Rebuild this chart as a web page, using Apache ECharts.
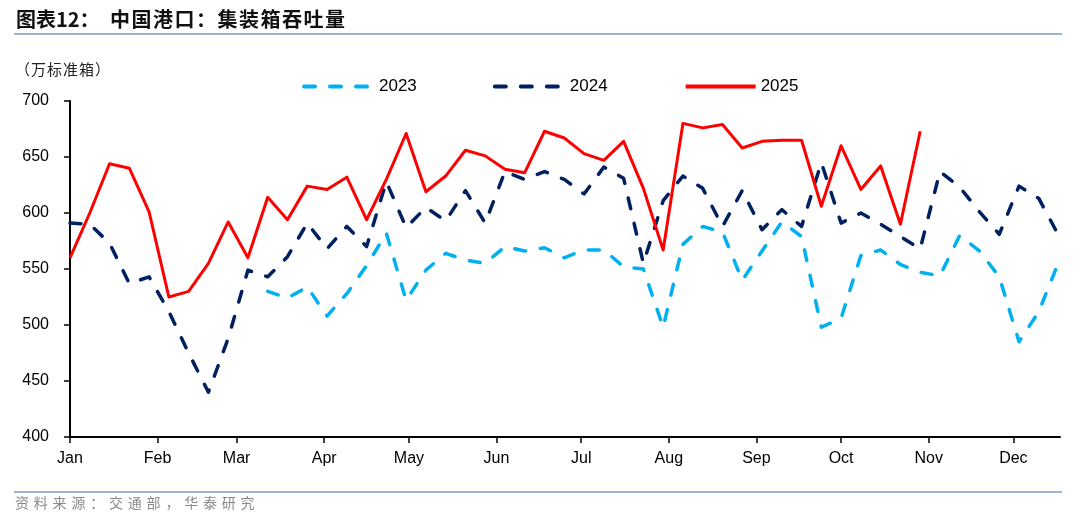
<!DOCTYPE html>
<html>
<head>
<meta charset="utf-8">
<script src="https://cdn.jsdelivr.net/npm/echarts@6/dist/echarts.min.js"></script>
<style>
html,body{margin:0;padding:0;background:#fff;}
#chart{width:1080px;height:525px;}
</style>
</head>
<body>
<div id="chart"></div>
<script>
// ---- data (weekly points; index i = week i of the year) ----
const monthLabels = ['Jan','Feb','Mar','Apr','May','Jun','Jul','Aug','Sep','Oct','Nov','Dec'];
const monthStartDays = [0,31,59,90,120,151,181,212,243,273,304,334];
const yTicks = [400,450,500,550,600,650,700];

const series2023 = [null,null,null,null,null,null,null,null,null,null,
  530,524,534,508,528,553,582,522,549,564,
  558,555,570,566,569,560,567,567,552,550,
  498,572,588,583,540,566,592,579,498,506,
  562,567,554,547,544,580,566,543,485,512,556];
const series2024 = [591,590,573,537,543,512,475,440,488,549,
  543,561,591,568,588,570,628,587,605,593,
  620,591,637,630,637,630,617,641,631,555,
  611,633,622,588,620,585,603,588,645,591,
  600,590,579,568,637,623,601,581,624,613,580];
const series2025 = [560,600,644,640,601,525,530,555,592,560,
  614,594,624,621,632,594,630,671,619,633,
  656,651,639,636,673,667,653,647,664,622,
  567,680,676,679,658,664,665,665,606,660,
  621,642,590,673];

const seriesNames = ['2023','2024','2025'];
const colors = ['#00B0F0','#002060','#FF0000'];

function toPairs(arr){
  const out = [];
  arr.forEach((v,i)=>{ if(v!==null) out.push([i*7, v]); });
  return out;
}

function spacedText(str, x, y, pitch, style){
  return Array.from(str).map((ch,i)=>({
    type:'text', left: x + i*pitch, top: y,
    style: Object.assign({text: ch}, style)
  }));
}

const chart = echarts.init(document.getElementById('chart'), null, {renderer:'canvas'});

const lineBase = { type:'line', showSymbol:false, symbol:'none', clip:true, animation:false, emphasis:{disabled:true} };

const option = {
  animation:false,
  backgroundColor:'#fff',
  grid:{ left:70, right:20, top:101, bottom:88, containLabel:false },
  legend:{
    data: seriesNames,
    left: 297, top: 73,
    itemWidth: 70, itemHeight: 16, itemGap: 76,
    itemStyle:{ opacity:0, borderWidth:0 },
    lineStyle:{ width:4 },
    textStyle:{ fontSize:17, color:'#000', fontFamily:'Liberation Sans, Arial, sans-serif' }
  },
  xAxis:{
    type:'value', min:0, max:350.5,
    axisLine:{ show:true, lineStyle:{ color:'#000', width:2 } },
    axisTick:{ show:true, inside:false, length:6, customValues: monthStartDays, lineStyle:{ color:'#000', width:1.5 } },
    axisLabel:{
      customValues: monthStartDays, margin:14,
      fontSize:16, color:'#000', fontFamily:'Liberation Sans, Arial, sans-serif',
      formatter: (v)=> monthLabels[monthStartDays.indexOf(Math.round(v))] || ''
    },
    splitLine:{ show:false }
  },
  yAxis:{
    type:'value', min:yTicks[0], max:yTicks[yTicks.length-1], interval:50,
    axisLine:{ show:true, lineStyle:{ color:'#000', width:2 } },
    axisTick:{ show:true, length:6, lineStyle:{ color:'#000', width:1.5 } },
    axisLabel:{ margin:21, fontSize:16, color:'#000', fontFamily:'Liberation Sans, Arial, sans-serif' },
    splitLine:{ show:false }
  },
  series:[
    Object.assign({}, lineBase, { name:seriesNames[0], data: toPairs(series2023), z:2,
      itemStyle:{color:colors[0]},
      lineStyle:{ color:colors[0], width:3.5, type:[11,15], cap:'round', join:'round' } }),
    Object.assign({}, lineBase, { name:seriesNames[1], data: toPairs(series2024), z:3,
      itemStyle:{color:colors[1]},
      lineStyle:{ color:colors[1], width:3.5, type:[11,15], cap:'round', join:'round' } }),
    Object.assign({}, lineBase, { name:seriesNames[2], data: toPairs(series2025), z:4,
      itemStyle:{color:colors[2]},
      lineStyle:{ color:colors[2], width:3, type:'solid', join:'round' } })
  ],
  graphic:[
    { type:'text', left:16, top:9, style:{ text:'图表12：', fontSize:20, fontWeight:'bold', fill:'#111', fontFamily:'Noto Sans CJK SC, sans-serif' } },
    ...spacedText('中国港口：集装箱吞吐量', 110, 9, 21.5, { fontSize:20, fontWeight:'bold', fill:'#111', fontFamily:'Noto Sans CJK SC, sans-serif' }),
    { type:'rect', left:14, top:33, shape:{ width:1048, height:2 }, style:{ fill:'#9FB4CE' } },
    ...spacedText('（万标准箱）', 15, 62, 16, { fontSize:15, fill:'#222', fontFamily:'Noto Sans CJK SC, sans-serif' }),
    { type:'rect', left:14, top:491, shape:{ width:1048, height:2 }, style:{ fill:'#9FB4CE' } },
    ...spacedText('资料来源：交通部，华泰研究', 15, 496, 18.8, { fontSize:14, fill:'#8a8a8a', fontFamily:'Noto Sans CJK SC, sans-serif' })
  ]
};
chart.setOption(option);
</script>
</body>
</html>
